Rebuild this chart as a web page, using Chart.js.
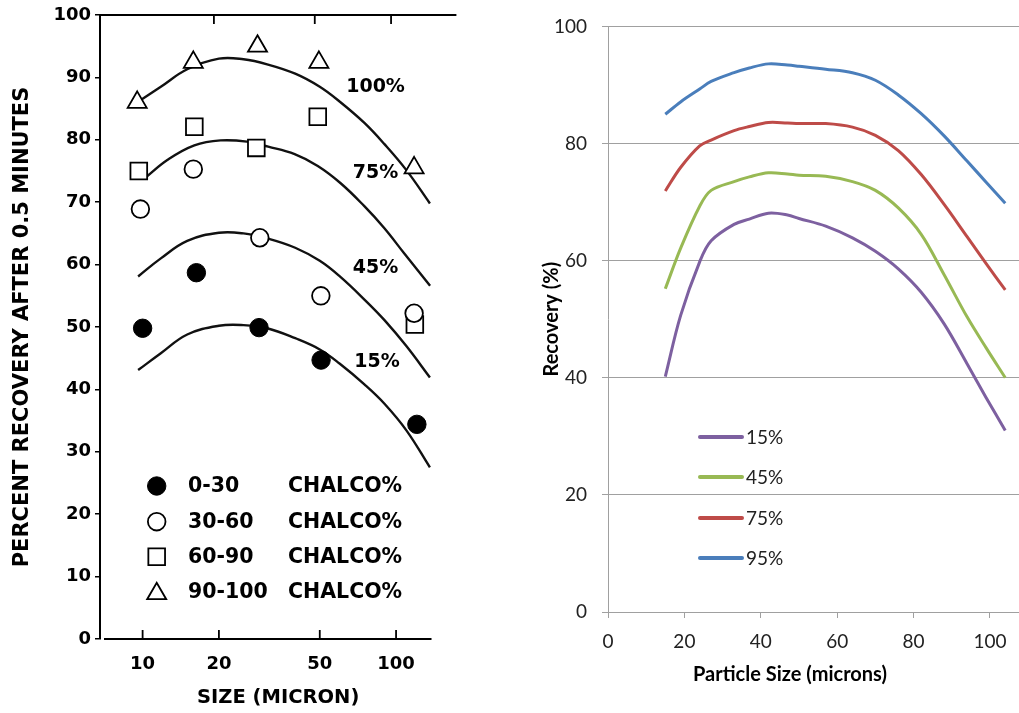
<!DOCTYPE html>
<html><head><meta charset="utf-8">
<script src="https://cdn.jsdelivr.net/npm/chart.js@4.4.1/dist/chart.umd.min.js"></script>
<style>
html,body{margin:0;padding:0;background:#fff;width:1019px;height:713px;overflow:hidden;}
#c1{position:absolute;left:0;top:0;}
#c2{position:absolute;left:520px;top:0;}
</style></head><body>
<canvas id="c1" width="470" height="713"></canvas>
<canvas id="c2" width="499" height="713"></canvas>
<script>
// ================= LEFT CHART DATA (size in microns, log axis) =================
const leftXTicks = [10, 20, 50, 100];
const leftYTicks = [0, 10, 20, 30, 40, 50, 60, 70, 80, 90, 100];

const chalco0_30X   = [10.0, 16.3, 28.8, 50.6, 120.8];
const chalco0_30Y   = [49.8, 58.7, 49.9, 44.7, 34.4];
const chalco30_60X  = [9.8, 15.85, 29.0, 50.5, 117.8];
const chalco30_60Y  = [68.9, 75.3, 64.3, 55.0, 52.2];
const chalco60_90X  = [9.66, 16.0, 28.1, 49.1, 118.6];
const chalco60_90Y  = [75.0, 82.1, 78.7, 83.7, 50.4];
const chalco90_100X = [9.52, 15.85, 28.4, 49.6, 117.8];
const chalco90_100Y = [86.0, 92.4, 95.0, 92.4, 75.5];

// fitted curves
const curveX     = [9.6, 11.8, 15, 20, 25, 31, 40, 50, 60, 75, 90, 110, 136];
const curve100Y  = [86.1, 88.5, 91.3, 93.0, 92.9, 92.1, 90.6, 88.5, 86.1, 82.7, 79.3, 75.1, 69.8];
const curve45Y   = [58.1, 61.0, 63.8, 65.1, 65.0, 64.2, 62.7, 60.6, 58.1, 54.4, 51.1, 46.9, 41.9];
const curve15Y   = [43.1, 45.8, 48.8, 50.2, 50.3, 49.8, 48.2, 46.4, 44.1, 40.8, 37.7, 33.4, 27.5];
const curve75X   = [10.3, 12.56, 16, 20.3, 25.8, 31.3, 39.8, 49.1, 60.6, 74.8, 89.6, 107.2, 136.2];
const curve75Y   = [74.0, 76.8, 79.1, 79.9, 79.7, 78.9, 77.7, 75.8, 73.0, 69.4, 65.9, 61.9, 56.6];

const curveLabels = ['100%', '75%', '45%', '15%'];
const legendRanges = ['0-30', '30-60', '60-90', '90-100'];

// ================= RIGHT CHART DATA =================
const rightXTicks = [0, 20, 40, 60, 80, 100];
const rightYTicks = [0, 20, 40, 60, 80, 100];
const sizeMicrons = [15, 19, 24, 27, 33, 37, 42, 47, 50, 57, 64, 70, 76, 82, 88, 94, 99, 104];
const rec15 = [40.2, 50.6, 59.8, 63.4, 66.2, 67.1, 68.1, 67.8, 67.2, 65.9, 63.9, 61.6, 58.6, 54.6, 49.2, 42.4, 36.6, 31.0];
const rec45 = [55.2, 62.1, 69.3, 72.0, 73.5, 74.3, 75.0, 74.8, 74.6, 74.4, 73.5, 72.0, 69.0, 64.5, 57.6, 50.4, 45.1, 40.0];
const rec75 = [71.9, 75.9, 79.6, 80.6, 82.2, 82.9, 83.6, 83.5, 83.4, 83.4, 82.8, 81.4, 78.8, 74.7, 69.6, 64.1, 59.5, 55.0];
const rec95 = [85.0, 87.1, 89.3, 90.6, 92.1, 92.9, 93.6, 93.4, 93.2, 92.7, 92.1, 90.8, 88.3, 85.1, 81.3, 77.0, 73.4, 69.8];
const rightLabels = ['15%', '45%', '75%', '95%'];

// ================= helpers =================
const zip = (xs, ys) => xs.map((x, i) => ({x: x, y: ys[i]}));
const BOLD = {family: 'DejaVu Sans', weight: 'bold'};

// ================= LEFT CHART =================
const markerStyles = [
  {pointStyle: 'circle',   pointRadius: 9.2, pointBorderWidth: 1, pointBackgroundColor: '#000', pointBorderColor: '#000'},
  {pointStyle: 'circle',   pointRadius: 8.8, pointBorderWidth: 1.8, pointBackgroundColor: '#fff', pointBorderColor: '#000'},
  {pointStyle: 'rect',     pointRadius: 11.8, pointBorderWidth: 1.8, pointBackgroundColor: '#fff', pointBorderColor: '#000'},
  {pointStyle: 'triangle', pointRadius: 11, pointBorderWidth: 1.8, pointBackgroundColor: '#fff', pointBorderColor: '#000'}
];
const markerData = [
  zip(chalco0_30X, chalco0_30Y),
  zip(chalco30_60X, chalco30_60Y),
  zip(chalco60_90X, chalco60_90Y),
  zip(chalco90_100X, chalco90_100Y)
];
const curveData = [
  zip(curveX, curve100Y),
  zip(curve75X, curve75Y),
  zip(curveX, curve45Y),
  zip(curveX, curve15Y)
];

const leftDatasets = [];
markerData.forEach((d, i) => {
  leftDatasets.push(Object.assign({label: legendRanges[i] + ' CHALCO%', data: d, showLine: false, order: 0}, markerStyles[i]));
});
curveData.forEach((d, i) => {
  leftDatasets.push({label: curveLabels[i], data: d, showLine: true, pointRadius: 0,
    borderColor: '#111', borderWidth: 2.4, tension: 0.4, order: 10});
});

const leftFrame = {
  id: 'leftFrame',
  afterDraw(chart) {
    const ctx = chart.ctx, a = chart.chartArea, xs = chart.scales.x, ys = chart.scales.y;
    ctx.save();
    ctx.strokeStyle = '#000';
    ctx.lineWidth = 2;
    // top frame line
    ctx.beginPath(); ctx.moveTo(a.left, a.top); ctx.lineTo(a.right, a.top); ctx.stroke();
    // bottom axis line
    ctx.beginPath(); ctx.moveTo(a.left + 4, a.bottom); ctx.lineTo(xs.getPixelForValue(138), a.bottom); ctx.stroke();
    // inward tick marks
    ctx.lineWidth = 1.8;
    leftXTicks.forEach(v => {
      const px = xs.getPixelForValue(v);
      ctx.beginPath(); ctx.moveTo(px, a.bottom); ctx.lineTo(px, a.bottom - 9); ctx.stroke();
      if (v !== leftXTicks[0]) {
        ctx.beginPath(); ctx.moveTo(px - 5, a.top); ctx.lineTo(px - 5, a.top + 9); ctx.stroke();
      }
    });
    // curve labels
    ctx.fillStyle = '#000';
    ctx.font = 'bold 19px "DejaVu Sans"';
    ctx.textAlign = 'center';
    ctx.textBaseline = 'middle';
    const labelYs = [88.4, 74.6, 59.4, 44.4];
    curveLabels.forEach((t, i) => {
      ctx.fillText(t, xs.getPixelForValue(83) + (i === 3 ? 1.5 : 0), ys.getPixelForValue(labelYs[i]));
    });
    // legend
    const rowY = [486, 521.7, 556.7, 591.7];
    ctx.font = 'bold 20.5px "DejaVu Sans"';
    ctx.textAlign = 'left';
    markerStyles.forEach((m, i) => {
      ctx.fillStyle = m.pointBackgroundColor;
      ctx.strokeStyle = m.pointBorderColor;
      ctx.lineWidth = m.pointBorderWidth;
      Chart.helpers.drawPoint(ctx, {pointStyle: m.pointStyle, radius: m.pointRadius, rotation: 0, borderWidth: m.pointBorderWidth}, 156.7, rowY[i] + (m.pointStyle === 'triangle' ? 2 : 0));
      ctx.fillStyle = '#000';
      ctx.fillText(legendRanges[i], 188, rowY[i] + 1);
      ctx.fillText('CHALCO%', 288, rowY[i] + 1);
    });
    ctx.restore();
  }
};

new Chart(document.getElementById('c1'), {
  type: 'scatter',
  data: {datasets: leftDatasets},
  options: {
    responsive: false, animation: false, events: [],
    layout: {padding: {top: 15, right: 10, left: 0, bottom: 0}},
    plugins: {legend: {display: false}, tooltip: {enabled: false}},
    scales: {
      x: {
        type: 'logarithmic', min: 6.79, max: 173,
        afterBuildTicks: s => { s.ticks = leftXTicks.map(v => ({value: v})); },
        afterFit: s => { s.height = 74; },
        grid: {display: false, drawTicks: false},
        border: {display: false},
        ticks: {padding: 15, color: '#000', autoSkip: false, maxRotation: 0,
          font: Object.assign({size: 18}, BOLD), callback: v => String(v)},
        title: {display: true, text: 'SIZE (MICRON)', color: '#000',
          font: Object.assign({size: 19.5}, BOLD), padding: {top: 0, bottom: 3.5}}
      },
      y: {
        min: 0, max: 100,
        afterBuildTicks: s => { s.ticks = leftYTicks.map(v => ({value: v})); },
        afterFit: s => { s.width = 100; },
        grid: {drawOnChartArea: false, drawTicks: true, tickLength: 5, color: '#000', lineWidth: 1.5},
        border: {display: true, color: '#000', width: 2},
        ticks: {padding: 4, color: '#000', font: Object.assign({size: 18}, BOLD)},
        title: {display: true, text: 'PERCENT RECOVERY AFTER 0.5 MINUTES', color: '#000',
          font: Object.assign({size: 21}, BOLD), padding: {top: 9.5, bottom: 0}}
      }
    }
  },
  plugins: [leftFrame]
});

// ================= RIGHT CHART =================
const rightColors = ['#7D60A0', '#98B954', '#BE4B48', '#4A7EBB'];
const rightSeries = [rec15, rec45, rec75, rec95];

const rightExtras = {
  id: 'rightExtras',
  afterDraw(chart) {
    const ctx = chart.ctx;
    ctx.save();
    // x-axis title
    ctx.fillStyle = '#000';
    ctx.font = 'bold 20px Lato';
    ctx.textAlign = 'center';
    ctx.textBaseline = 'middle';
    ctx.fillText('Particle Size (microns)', 270, 675);
    // legend
    const rowY = [437, 477, 518, 558];
    ctx.font = '19px Lato';
    ctx.textAlign = 'left';
    ctx.lineCap = 'round';
    rightLabels.forEach((t, i) => {
      ctx.strokeStyle = rightColors[i];
      ctx.lineWidth = 4;
      ctx.beginPath(); ctx.moveTo(180, rowY[i]); ctx.lineTo(222, rowY[i]); ctx.stroke();
      ctx.fillStyle = '#222';
      ctx.fillText(t, 226, rowY[i] + 1);
    });
    ctx.restore();
  }
};

new Chart(document.getElementById('c2'), {
  type: 'scatter',
  data: {
    datasets: rightSeries.map((ys, i) => ({
      label: rightLabels[i], data: zip(sizeMicrons, ys), showLine: true, pointRadius: 0,
      borderColor: rightColors[i], borderWidth: 3, tension: 0.35
    }))
  },
  options: {
    responsive: false, animation: false, events: [],
    layout: {padding: {top: 24, right: 0, left: 0, bottom: 0}},
    plugins: {legend: {display: false}, tooltip: {enabled: false}},
    scales: {
      x: {
        type: 'linear', min: 0, max: 107.6,
        afterBuildTicks: s => { s.ticks = rightXTicks.map(v => ({value: v})); },
        afterFit: s => { s.height = 101; },
        grid: {drawOnChartArea: false, drawTicks: true, tickLength: 6, color: '#a0a0a0'},
        border: {display: true, color: '#a0a0a0', width: 1},
        ticks: {padding: 12, color: '#222', autoSkip: false, maxRotation: 0, font: {family: 'Lato', size: 19}}
      },
      y: {
        min: 0, max: 100,
        afterBuildTicks: s => { s.ticks = rightYTicks.map(v => ({value: v})); },
        afterFit: s => { s.width = 88; },
        grid: {drawTicks: true, tickLength: 6, color: '#a0a0a0'},
        border: {display: true, color: '#a0a0a0', width: 1},
        ticks: {padding: 15, color: '#222', font: {family: 'Lato', size: 19}},
        title: {display: true, text: 'Recovery (%)', color: '#000',
          font: {family: 'Lato', weight: 'bold', size: 20}, padding: {top: 20, bottom: 0}}
      }
    }
  },
  plugins: [rightExtras]
});
</script>
</body></html>
